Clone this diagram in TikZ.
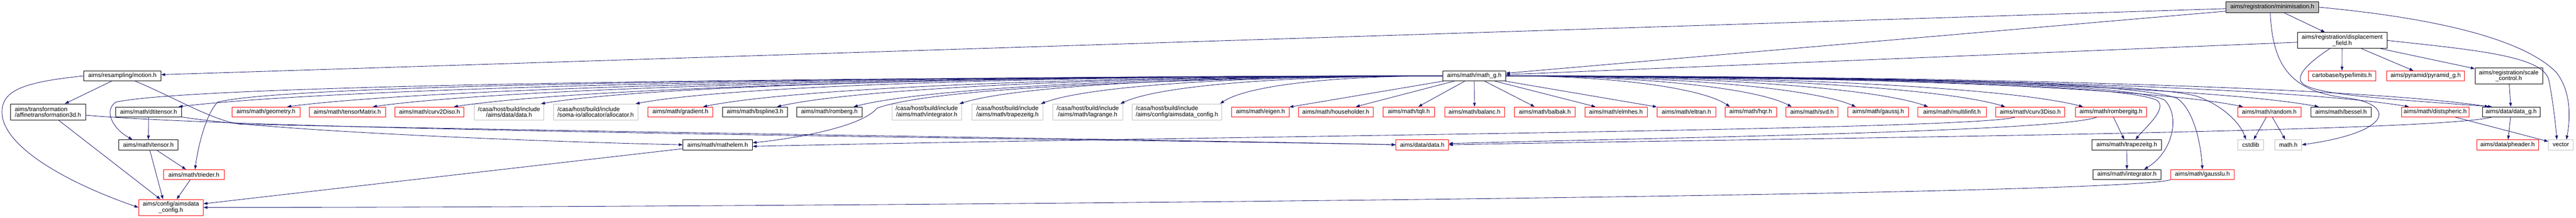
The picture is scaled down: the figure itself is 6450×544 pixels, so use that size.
\documentclass[tikz,border=0pt]{standalone}
\usepackage{fontspec}
\setmainfont{Liberation Sans}
\usetikzlibrary{arrows.meta,calc}
\definecolor{edgec}{HTML}{191970}
\definecolor{grayb}{HTML}{BFBFBF}
\newcommand\nf{\fontsize{15pt}{15pt}\selectfont}
\newcommand\mynode[6]{\node[#2,minimum width=#5pt] (#1) at (#3,#4) {#6};}
\newcommand\fanL[2]{\draw[edge] let \p1=(mg.west), \p2=([xshift=#2pt]#1.north) in (\p1) .. controls ({0.5*\x1+0.5*\x2},\y1) and ({\x2+0.12*(\x1-\x2)},{\y2+45pt}) .. (\p2);}
\newcommand\fanR[2]{\draw[edge] let \p1=(mg.east), \p2=([xshift=#2pt]#1.north) in (\p1) .. controls ({0.5*\x1+0.5*\x2},\y1) and ({\x2-0.12*(\x2-\x1)},{\y2+45pt}) .. (\p2);}
\begin{document}
\begin{tikzpicture}[x=1pt,y=-1pt,
  box/.style={draw, fill=white, inner sep=0pt, minimum height=25pt, line width=1pt, font=\nf},
  bk/.style={box, draw=black},
  rd/.style={box, draw=red},
  gy/.style={box, draw=grayb},
  rt/.style={box, draw=black, fill=grayb},
  two/.style={minimum height=40pt, align=center},
  twol/.style={minimum height=40pt, align=left},
  edge/.style={draw=edgec, line width=1.1pt, -{Triangle[length=10pt,width=7pt]}}]
\useasboundingbox (0,0) rectangle (6450,544);
% top
\mynode{mn}{rt,minimum height=26pt}{5689.5}{18}{233}{aims/registration/minimisation.h}
\mynode{df}{bk,two}{5864.5}{101}{225}{aims/registration/displacement\\\_field.h}
% row 2
\mynode{mo}{bk}{306.5}{189.5}{193}{aims/resampling/motion.h}
\mynode{mg}{bk}{3691.5}{189.5}{157}{aims/math/math\_g.h}
\mynode{lim}{rd}{5864}{189.5}{170}{cartobase/type/limits.h}
\mynode{pyr}{rd}{6073.5}{189.5}{195}{aims/pyramid/pyramid\_g.h}
\mynode{sc}{bk,two,minimum height=41pt}{6281.5}{189.5}{169}{aims/registration/scale\\\_control.h}
% row 3
\mynode{af}{bk,twol}{120}{279.5}{188}{aims/transformation\\/affinetransformation3d.h}
\mynode{dt}{bk}{372}{279.5}{166}{aims/math/dtitensor.h}
\mynode{geo}{rd}{666}{279.5}{170}{aims/math/geometry.h}
\mynode{tm}{rd}{869.5}{279.5}{191}{aims/math/tensorMatrix.h}
\mynode{c2d}{rd}{1075.5}{279.5}{173}{aims/math/curv2Diso.h}
\mynode{dhg}{gy,two}{1274.5}{279.5}{175}{/casa/host/build/include\\/aims/data/data.h}
\mynode{alc}{gy,twol}{1491.5}{279.5}{211}{/casa/host/build/include\\/soma-io/allocator/allocator.h}
\mynode{grd}{rd}{1703.5}{279.5}{163}{aims/math/gradient.h}
\mynode{bsp}{bk}{1890.5}{279.5}{163}{aims/math/bspline3.h}
\mynode{rom}{bk}{2076.5}{279.5}{163}{aims/math/romberg.h}
\mynode{itg}{gy,two}{2320.5}{279.5}{175}{/casa/host/build/include\\/aims/math/integrator.h}
\mynode{trg}{gy,two}{2522.5}{279.5}{179}{/casa/host/build/include\\/aims/math/trapezeitg.h}
\mynode{lag}{gy,two}{2723.5}{279.5}{175}{/casa/host/build/include\\/aims/math/lagrange.h}
\mynode{acg}{gy,twol}{2947}{279.5}{224}{/casa/host/build/include\\/aims/config/aimsdata\_config.h}
\mynode{eig}{rd}{3156}{279.5}{144}{aims/math/eigen.h}
\mynode{hh}{rd}{3344.5}{279.5}{187}{aims/math/householder.h}
\mynode{tq}{rd}{3527.5}{279.5}{129}{aims/math/tqli.h}
\mynode{bal}{rd}{3692}{279.5}{150}{aims/math/balanc.h}
\mynode{bbk}{rd}{3868}{279.5}{152}{aims/math/balbak.h}
\mynode{elm}{rd}{4046}{279.5}{156}{aims/math/elmhes.h}
\mynode{elt}{rd}{4222.5}{279.5}{147}{aims/math/eltran.h}
\mynode{hqr}{rd}{4383.5}{279.5}{129}{aims/math/hqr.h}
\mynode{svd}{rd}{4537}{279.5}{130}{aims/math/svd.h}
\mynode{gj}{rd}{4702.5}{279.5}{151}{aims/math/gaussj.h}
\mynode{mlf}{rd}{4887.5}{279.5}{171}{aims/math/multilinfit.h}
\mynode{c3d}{rd}{5083.5}{279.5}{173}{aims/math/curv3Diso.h}
\mynode{rbi}{rd}{5285.5}{279.5}{179}{aims/math/rombergitg.h}
\mynode{rnd}{rd}{5682}{279.5}{158}{aims/math/random.h}
\mynode{bes}{bk}{5861.5}{279.5}{151}{aims/math/bessel.h}
\mynode{dsp}{rd}{6097.5}{279.5}{169}{aims/math/distspheric.h}
\mynode{dg}{bk}{6287.5}{279.5}{145}{aims/data/data\_g.h}
% row 4
\mynode{ts}{bk}{371.5}{361.5}{149}{aims/math/tensor.h}
\mynode{ml}{bk}{1797}{361.5}{174}{aims/math/mathelem.h}
\mynode{dr}{rd}{3561}{361.5}{132}{aims/data/data.h}
\mynode{tz}{bk}{5325}{361.5}{174}{aims/math/trapezeitg.h}
\mynode{csl}{gy}{5635.5}{361.5}{65}{cstdlib}
\mynode{mth}{gy}{5729.5}{361.5}{67}{math.h}
\mynode{ph}{rd}{6278.5}{361.5}{155}{aims/data/pheader.h}
\mynode{vec}{gy}{6412}{361.5}{62}{vector}
% row 5
\mynode{tr}{rd}{485.5}{436}{151}{aims/math/trieder.h}
\mynode{ig}{bk}{5325.5}{436}{171}{aims/math/integrator.h}
\mynode{gl}{rd}{5514.5}{436}{159}{aims/math/gausslu.h}
% row 6
\mynode{ac}{rd,two}{428}{518}{162}{aims/config/aimsdata\\\_config.h}
% ---- edges: minimisation
\draw[edge] (mn) -- (mo);
\draw[edge] (mn) -- (mg);
\draw[edge] (mn) -- (df);
\draw[edge] ([xshift=-5pt]mn.south) .. controls (5690,170) and (5740,230) .. (5880,245) .. controls (6000,262) and (5990,330) .. (mth.east);
\draw[edge] (mn.east) .. controls (6150,50) and (6330,110) .. (6400,180) .. controls (6440,230) and (6435,300) .. ([xshift=14pt]vec.north);
% displacement field
\draw[edge] (df) -- (mg);
\draw[edge] (df) -- (lim);
\draw[edge] (df) -- (pyr);
\draw[edge] (df) -- (sc);
\draw[edge] (df) .. controls (5790,150) and (5755,180) .. (5760,200) .. controls (5765,235) and (5950,245) .. ([xshift=-48pt]dg.north);
\draw[edge] (df.east) .. controls (6200,125) and (6368,140) .. (6382,200) .. controls (6390,240) and (6398,300) .. ([xshift=-10pt]vec.north);
% scale control, data_g
\draw[edge] (sc) -- (dg);
\draw[edge] (dg) -- (ph);
\draw[edge] (dg) .. controls (6100,330) and (4500,345) .. (dr.east);
% motion, affine
\draw[edge] (mo) -- (af);
\draw[edge] (mo.west) .. controls (60,205) and (5,225) .. (5,280) .. controls (5,360) and (150,450) .. (ac.west);
\draw[edge] (mo) .. controls (430,240) and (530,300) .. (600,310) .. controls (1500,330) and (3000,350) .. (dr.west);
\draw[edge] (af) -- (ac);
\draw[edge] (af) .. controls (700,330) and (3000,350) .. (dr.west);
% dtitensor, tensor, trieder, mathelem, gausslu
\draw[edge] (dt) -- (ts);
\draw[edge] (dt) .. controls (700,330) and (1400,355) .. (ml.west);
\draw[edge] (ts) -- (tr);
\draw[edge] (ts) -- ([xshift=-20pt]ac.north);
\draw[edge] (tr) -- (ac);
\draw[edge] (ml) -- (ac);
\draw[edge] (gl.south west) .. controls (5300,490) and (2000,518) .. (ac.east);
% curv3Diso, rombergitg, trapezeitg, random, distspheric
\draw[edge] (c3d) .. controls (4950,325) and (3000,340) .. ([yshift=-4pt]ml.east);
\draw[edge] (rbi) -- (tz);
\draw[edge] (rbi) .. controls (5150,330) and (4100,345) .. ([yshift=3pt]dr.east);
\draw[edge] (tz) -- (ig);
\draw[edge] (rnd) -- (csl);
\draw[edge] (rnd) -- (mth);
\draw[edge] (dsp) -- (vec);
% math_g fan, left
\fanL{dt}{75}
\fanL{geo}{53}
\fanL{tm}{64}
\fanL{c2d}{61}
\fanL{dhg}{80}
\fanL{alc}{100}
\fanL{grd}{57}
\fanL{bsp}{55}
\fanL{rom}{61}
\fanL{itg}{82}
\fanL{trg}{84}
\fanL{lag}{82}
\fanL{acg}{108}
\draw[edge] (mg) -- (eig);
\draw[edge] (mg) -- (hh);
\draw[edge] (mg) -- (tq);
\draw[edge] (mg) -- (bal);
\draw[edge] (mg) -- (bbk);
\draw[edge] (mg) -- (elm);
\draw[edge] (mg) -- (elt);
% math_g fan, right
\fanR{hqr}{-52}
\fanR{svd}{-51}
\fanR{gj}{-56}
\fanR{mlf}{-60}
\fanR{c3d}{-63}
\fanR{rbi}{-70}
\fanR{rnd}{-66}
\fanR{bes}{-56}
\fanR{dsp}{-66}
\fanR{dg}{-56}
% math_g to lower nodes
\draw[edge] (mg.west) .. controls (1500,195) and (450,220) .. (290,255) .. controls (260,275) and (280,320) .. ([xshift=-40pt]ts.north);
\draw[edge] (mg.west) .. controls (1800,195) and (700,215) .. (545,255) .. controls (515,285) and (495,370) .. ([xshift=3pt]tr.north);
\draw[edge] (mg.west) .. controls (3000,195) and (2350,215) .. (2196,270) .. controls (2160,315) and (2000,345) .. ([yshift=5pt]ml.east);
\draw[edge] (mg.east) .. controls (4500,195) and (5300,205) .. (5400,250) .. controls (5430,270) and (5370,320) .. ([xshift=22pt]tz.north);
\draw[edge] (mg.east) .. controls (4500,195) and (5320,200) .. (5420,250) .. controls (5460,290) and (5440,380) .. ([xshift=43pt]ig.north);
\draw[edge] (mg.east) .. controls (4500,195) and (5300,195) .. (5450,245) .. controls (5490,270) and (5510,350) .. (gl.north);
\draw[edge] (mg.east) .. controls (4500,195) and (5350,200) .. (5500,240) .. controls (5570,265) and (5610,310) .. ([xshift=-12pt]csl.north);
\end{tikzpicture}
\end{document}
